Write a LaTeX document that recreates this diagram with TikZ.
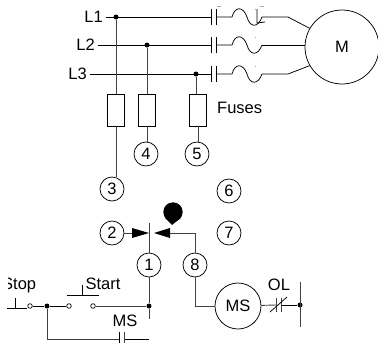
\documentclass[tikz,border=0pt]{standalone}
\usepackage{fontspec}
\setmainfont{Liberation Sans}
\begin{document}
\begin{tikzpicture}[x=1pt,y=-1pt,
  wire/.style={line width=0.75pt,black,line cap=butt},
  feed/.style={line width=0.9pt,black!75},
  lab/.style={font=\fontsize{16.5}{17}\selectfont,inner sep=0pt,text height=11.5pt,text depth=0pt},
  numc/.style={circle,draw,line width=0.75pt,minimum size=24pt,inner sep=0pt,font=\fontsize{16.5}{17}\selectfont,text height=11.5pt,text depth=0pt},
  bigc/.style={circle,draw,line width=0.75pt,inner sep=0pt,font=\fontsize{16.5}{17}\selectfont,text height=11.5pt,text depth=0pt},
  fusebox/.style={draw,line width=0.75pt,minimum width=17.5pt,minimum height=32pt,inner sep=0pt},
  dotj/.style={circle,fill=black,minimum size=5pt,inner sep=0pt},
  openc/.style={circle,draw,line width=0.7pt,fill=white,minimum size=4.6pt,inner sep=0pt},
  bulb/.style={circle,fill=black,minimum size=19.4pt,inner sep=0pt},
  tick/.style={line width=0.4pt,black!35}]
\useasboundingbox (0,0) rectangle (378,343);
% labels
\node[lab,left,inner sep=0pt] (L1) at (103,17) {L1};
\node[lab,left,inner sep=0pt] (L2) at (95,45) {L2};
\node[lab,left,inner sep=0pt] (L3) at (87,74) {L3};
\node[bigc,minimum size=74pt] (M) at (342,47) {M};
% junctions
\node[dotj] (j1) at (116,17) {};
\node[dotj] (j2) at (147,45) {};
\node[dotj] (j3) at (196,74) {};
% fuses
\node[fusebox] (f1) at (116,110) {};
\node[fusebox] (f2) at (147,110) {};
\node[fusebox] (f3) at (198,110) {};
\node[lab,right] (fuses) at (217,108) {Fuses};
% numbered circles
\node[numc] (n3) at (112,189) {3};
\node[numc] (n4) at (146,154) {4};
\node[numc] (n5) at (197,154) {5};
\node[numc] (n6) at (229,191) {6};
\node[numc] (n2) at (112,233) {2};
\node[numc] (n7) at (229,233) {7};
\node[numc] (n1) at (149,265) {1};
\node[numc] (n8) at (195,265) {8};
% supply lines
\foreach \n/\y/\s in {1/17/L1,2/45/L2,3/74/L3}{
  \coordinate (p\n) at (211,\y);
  \coordinate (q\n) at (216,\y);
  \coordinate (a\n) at (232,\y);
  \coordinate (b\n) at (262,\y);
  \draw[wire] ([xshift=3pt]\s.east) -- (p\n);
  \draw[wire] (211,\y-8) -- (211,\y+8);
  \draw[wire] (216,\y-8) -- (216,\y+8);
  \draw[wire] (q\n) -- (a\n) .. controls (235,\y-11) and (243,\y-11) .. (247,\y)
     .. controls (250,\y+11) and (258,\y+11) .. (b\n);
}
\coordinate (d1) at (288,17);
\coordinate (d3) at (288,74);
\draw[wire] (b1) -- (d1) -- (M.150);
\draw[wire] (b2) -- (M.west |- b2);
\draw[wire] (b3) -- (d3) -- (M.210);
\draw[wire] (257,9) -- (257,23) -- (265,22);
\draw[tick] (217,6) -- (221,6) (260,6) -- (264,6) (255,8.5) -- (255,9.5) (255,36.5) -- (255,37.5) (255,65.5) -- (255,66.5);
% feeders
\draw[feed] (j1) -- (f1.north);
\draw[feed] (j2) -- (f2.north);
\draw[feed] (j3) -- (j3 |- f3.north);
\draw[feed] (f1.south) -- (f1.south |- n3.north);
\draw[feed] (f2.south) -- (f2.south |- n4.north);
\draw[feed] (f3.south) -- (f3.south |- n5.north);
% valve
\coordinate (vt) at (149,223);
\draw[feed] (vt) -- (n1);
\coordinate (t2) at (149,233);
\coordinate (t8) at (154,233);
\coordinate (b2) at (132,233);
\coordinate (b8) at (170,233);
\fill (b2) ++(0,-5) -- (t2) -- ++(-17,5) -- cycle;
\fill (b8) ++(0,-5) -- (t8) -- ++(16,5) -- cycle;
\draw[feed] (n2) -- (b2);
\draw[feed] (b8) -- (n8 |- b8) -- (n8);
\node[bulb] (drop) at (173,212) {};
\coordinate (droptip) at (172,225);
\fill (drop.215) -- (droptip) -- (drop.-35) -- cycle;
% control circuit
\begin{scope}
\clip (8,270) rectangle (60,295);
\node[lab,right] (stop) at (2,284) {Stop};
\end{scope}
\node[lab] (start) at (103,284) {Start};
\node[lab] (ms) at (125,321) {MS};
\node[lab] (ol) at (279,285) {OL};
\node[openc] (o1) at (30,306) {};
\node[openc] (o2) at (69,306) {};
\node[openc] (o3) at (93,306) {};
\node[dotj] (j4) at (47,306) {};
\node[dotj] (j5) at (149,306) {};
\coordinate (s1) at (7,308);
\coordinate (s2) at (27,308);
\draw[wire] (15,298) -- (15,308);
\draw[wire] (s1) -- (s2);
\draw[wire] (o1) -- (j4) -- (o2);
\draw[feed] (o3) -- (j5);
\draw[wire] (67,295) -- (99,295);
\draw[wire] (82,295) -- (82,285);
\coordinate (e1) at (149,319);
\draw[feed] (n1) -- (j5) -- (e1);
\coordinate (c1) at (119,339);
\coordinate (c2) at (124,339);
\coordinate (c3) at (149,339);
\draw[feed] (j4) -- (j4 |- c1) -- (c1);
\draw[wire] (c2) -- (c3);
\draw[wire] (119,332) -- (119,343);
\draw[feed] (124,332) -- (124,343);
% MS branch
\node[bigc,minimum size=46pt] (MS) at (238,306) {MS};
\node[dotj] (j6) at (300,305) {};
\coordinate (k1) at (276,305);
\coordinate (k2) at (281,305);
\draw[feed] (n8) -- (n8 |- MS) -- (MS);
\draw[feed] (MS) -- (k1);
\draw[wire] (k2) -- (j6);
\draw[feed] (276,298) -- (276,312);
\draw[feed] (281,298) -- (281,312);
\draw[wire] (270,312) -- (287,297);
\draw[feed] (300,282) -- (300,327);
\end{tikzpicture}
\end{document}
